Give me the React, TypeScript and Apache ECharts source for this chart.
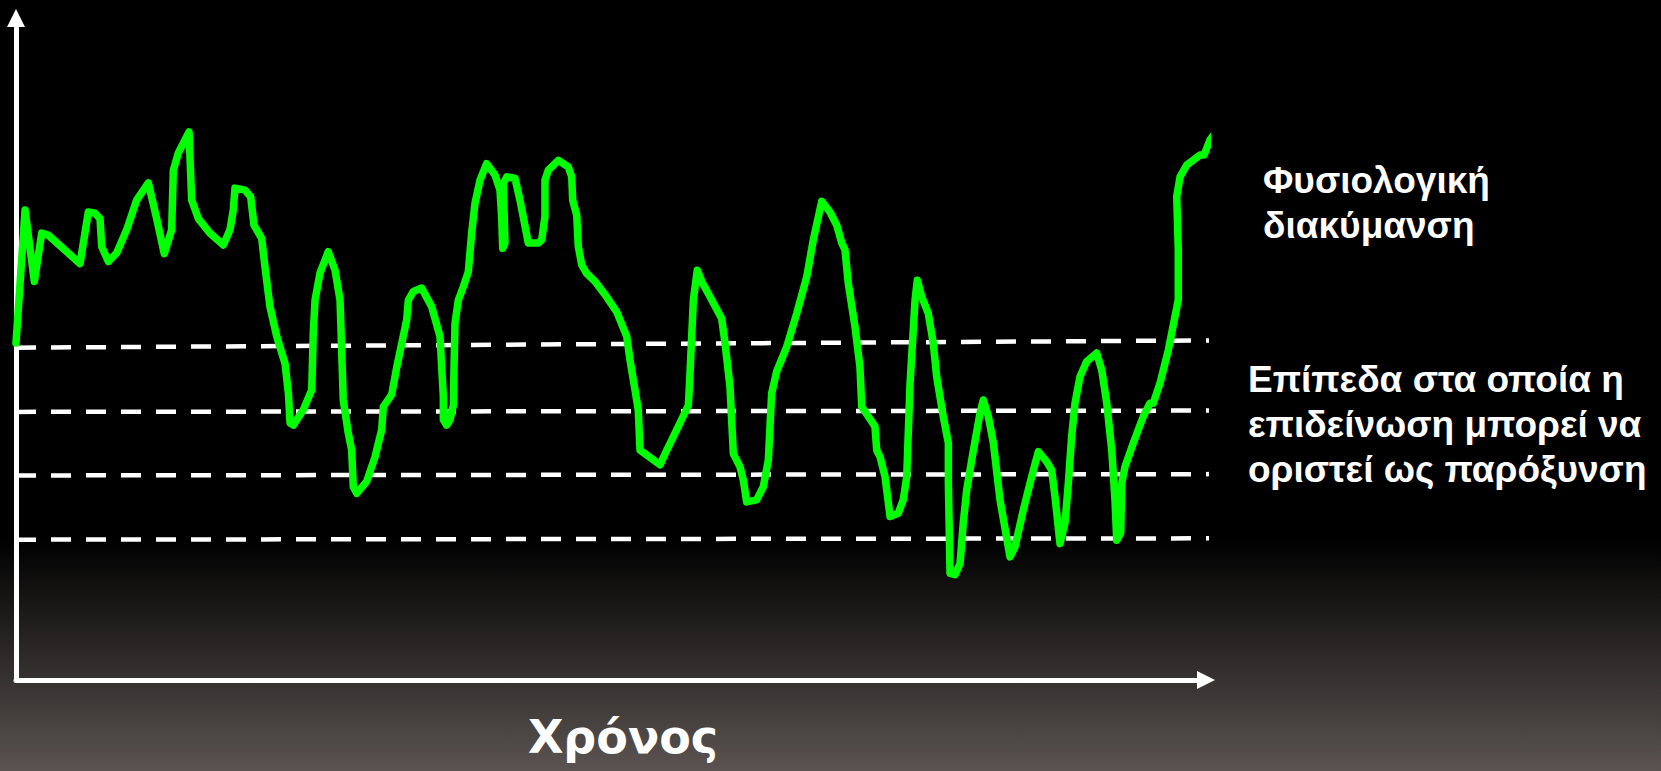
import React, { useEffect, useRef } from "react";
import * as echarts from "echarts";

// Green trace: time (x, arbitrary units 0–100) and symptom level (y, 0–100)
const timeValues = [
  0, 0.76, 1.54, 2.16, 2.71, 5.38, 6.08, 6.64, 7.06, 7.2,
  7.76, 8.46, 9.3, 10.14, 11.12, 11.82, 12.46, 13.08, 13.22, 13.64,
  14.54, 14.76, 15.32, 16.3, 17.42, 17.98, 18.26, 18.4, 19.24, 19.72,
  20.0, 20.65, 20.92, 21.34, 21.91, 22.61, 22.89, 23.03, 23.3, 24.14,
  24.85, 24.98, 25.13, 25.55, 26.24, 26.81, 27.23, 27.5, 27.92, 28.21,
  28.34, 28.63, 29.47, 30.17, 30.73, 30.87, 31.57, 32.0, 32.83, 32.97,
  33.39, 34.09, 34.93, 35.63, 35.91, 35.91, 36.19, 36.47, 36.75, 36.81,
  36.89, 37.17, 37.59, 38.01, 38.29, 38.57, 38.99, 39.55, 40.25, 40.67,
  40.81, 40.9, 41.09, 40.95, 41.24, 41.93, 42.35, 43.05, 43.89, 44.18,
  44.45, 44.45, 44.73, 45.57, 46.41, 46.7, 46.78, 47.12, 47.25, 47.54,
  47.96, 48.66, 49.5, 50.48, 51.32, 51.6, 52.02, 52.29, 52.44, 53.0,
  54.12, 54.68, 55.66, 56.5, 56.64, 56.92, 57.25, 57.62, 58.32, 59.3,
  59.58, 60.0, 60.28, 60.84, 61.12, 61.4, 62.24, 62.8, 63.22, 63.36,
  63.5, 63.92, 64.76, 65.61, 66.45, 67.0, 67.71, 68.4, 68.97, 69.39,
  69.66, 69.94, 70.5, 70.92, 71.07, 71.62, 72.18, 72.33, 72.61, 73.03,
  73.45, 74.14, 74.56, 74.85, 75.13, 75.55, 75.74, 76.11, 76.66, 77.08,
  77.37, 77.92, 78.35, 78.35, 78.49, 78.91, 79.33, 79.6, 79.89, 80.45,
  81.01, 81.29, 81.71, 82.13, 82.69, 83.53, 83.95, 84.65, 85.35, 85.91,
  86.61, 87.03, 87.31, 87.73, 88.15, 88.43, 88.71, 88.99, 89.41, 89.97,
  90.81, 91.24, 91.66, 92.08, 92.35, 92.5, 92.83, 92.92, 93.19, 93.89,
  94.73, 95.29, 95.57, 96.13, 96.83, 97.67, 97.67, 97.54, 97.82, 98.38,
  99.5, 99.83, 100.34, 100.76,
];
const levelValues = [
  50.9, 71.0, 60.2, 67.5, 67.2, 62.9, 70.7, 70.5, 69.7, 65.5,
  63.2, 64.5, 68.0, 72.5, 75.1, 69.7, 64.4, 68.0, 77.0, 79.6,
  82.8, 72.5, 69.7, 67.5, 65.7, 68.0, 71.0, 74.3, 74.0, 73.0,
  68.7, 66.7, 62.4, 56.4, 51.9, 47.8, 43.3, 38.8, 38.5, 40.8,
  43.8, 52.4, 57.4, 61.5, 64.7, 61.9, 57.4, 42.3, 37.3, 34.7,
  29.2, 28.2, 30.0, 33.7, 37.8, 41.3, 43.1, 47.3, 54.4, 57.4,
  58.7, 59.2, 56.4, 51.9, 42.8, 39.3, 38.5, 39.3, 41.5, 47.3,
  53.9, 57.4, 59.4, 61.7, 67.5, 72.0, 75.5, 78.0, 76.3, 74.0,
  70.0, 65.2, 66.0, 75.0, 76.0, 75.8, 72.5, 66.0, 66.0, 66.5,
  70.0, 75.5, 77.0, 78.5, 77.5, 76.0, 72.5, 70.2, 65.5, 62.7,
  61.4, 60.2, 58.2, 55.6, 51.9, 48.3, 43.8, 40.8, 34.7, 34.0,
  32.5, 34.7, 38.3, 41.5, 46.3, 57.4, 61.9, 60.2, 57.9, 54.6,
  50.9, 44.3, 34.2, 32.2, 30.2, 26.9, 27.2, 29.2, 33.2, 38.3,
  43.3, 46.6, 50.3, 55.4, 60.9, 66.5, 72.3, 70.7, 68.7, 66.0,
  65.0, 59.9, 53.4, 47.3, 41.3, 39.8, 38.3, 34.7, 33.7, 30.7,
  24.7, 25.2, 27.2, 30.7, 44.8, 57.4, 60.4, 57.9, 55.4, 50.9,
  45.8, 39.8, 35.8, 29.7, 16.1, 15.9, 17.6, 23.7, 28.7, 34.7,
  40.3, 42.3, 39.8, 35.8, 27.2, 18.6, 20.1, 25.7, 30.7, 34.5,
  33.0, 31.7, 27.7, 20.6, 23.7, 29.7, 36.8, 41.8, 45.8, 48.1,
  49.4, 46.8, 41.8, 34.7, 27.2, 21.1, 22.2, 29.7, 32.2, 35.8,
  39.8, 41.8, 41.8, 44.8, 49.8, 57.4, 65.0, 73.0, 76.0, 77.8,
  79.3, 79.3, 81.6, 82.6,
];

// Dashed threshold levels (start and end of each line)
const thresholdTimes = [0, 100.76];
const thresholdStartLevels = [50.2, 40.5, 30.9, 21.2];
const thresholdEndLevels = [51.3, 40.7, 31.1, 21.4];

const normalLabel = ["Φυσιολογική", "διακύμανση"];
const exacerbationLabel = [
  "Επίπεδα στα οποία η",
  "επιδείνωση μπορεί να",
  "οριστεί ως παρόξυνση",
];
const xAxisTitle = "Χρόνος";

export default function App() {
  const ref = useRef<HTMLDivElement>(null);

  useEffect(() => {
    if (!ref.current) return;
    const chart = echarts.init(ref.current, null, { renderer: "svg" });
    const n = Math.min(timeValues.length, levelValues.length);
    const curve = [];
    for (let i = 0; i < n; i++) curve.push([timeValues[i], levelValues[i]]);

    const thresholdSeries = thresholdStartLevels.map((s, i) => ({
      type: "line",
      data: [
        [thresholdTimes[0], s],
        [thresholdTimes[1], thresholdEndLevels[i]],
      ],
      symbol: "none",
      clip: false,
      silent: true,
      z: 2,
      lineStyle: { color: "#ffffff", width: 4.5, type: [20, 15], cap: "butt" },
    }));

    const axisCommon = {
      type: "value",
      min: 0,
      max: 100,
      axisLine: {
        show: true,
        lineStyle: { color: "#ffffff", width: 5 },
        symbol: ["none", "triangle"],
        symbolSize: [18, 18],
      },
      axisTick: { show: false },
      axisLabel: { show: false },
      splitLine: { show: false },
    };

    chart.setOption({
      animation: false,
      backgroundColor: "transparent",
      grid: { left: 16, right: 455, top: 18, bottom: 91 },
      xAxis: { ...axisCommon },
      yAxis: { ...axisCommon },
      series: [
        ...thresholdSeries,
        {
          type: "line",
          data: curve,
          symbol: "none",
          clip: false,
          z: 3,
          lineStyle: { color: "#00ff00", width: 7.5, cap: "round", join: "round" },
        },
      ],
      graphic: [
        {
          type: "text",
          x: 1263,
          y: 202.5,
          style: {
            text: normalLabel.join("\n"),
            fill: "#ffffff",
            font: 'bold 37px "Liberation Sans", Arial, sans-serif',
            lineHeight: 45,
            align: "left",
            verticalAlign: "middle",
          },
        },
        {
          type: "text",
          x: 1248,
          y: 424,
          style: {
            text: exacerbationLabel.join("\n"),
            fill: "#ffffff",
            font: 'bold 37px "Liberation Sans", Arial, sans-serif',
            lineHeight: 45,
            align: "left",
            verticalAlign: "middle",
          },
        },
        {
          type: "text",
          x: 623,
          y: 737,
          style: {
            text: xAxisTitle,
            fill: "#ffffff",
            font: 'bold 46px "DejaVu Sans", sans-serif',
            align: "center",
            verticalAlign: "middle",
          },
        },
      ],
    });
    return () => chart.dispose();
  }, []);

  return (
    <div
      ref={ref}
      style={{
        position: "fixed",
        left: 0,
        top: 0,
        width: 1661,
        height: 771,
        background:
          "linear-gradient(to bottom, #000000 0%, #000000 70%, #5a5351 100%)",
      }}
    />
  );
}
